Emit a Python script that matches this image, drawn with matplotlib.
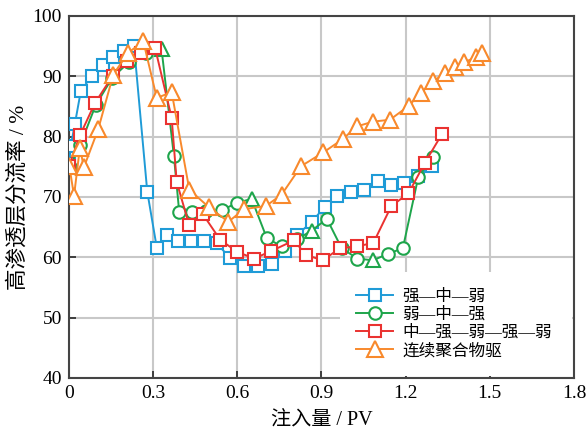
import matplotlib
matplotlib.use("Agg")
import matplotlib.pyplot as plt
from matplotlib.lines import Line2D

# 强—中—弱
x_blue = [0.001, 0.006, 0.021, 0.042, 0.081, 0.120, 0.158, 0.196, 0.232, 0.279,
          0.313, 0.348, 0.390, 0.435, 0.482, 0.526, 0.575, 0.625, 0.674, 0.725,
          0.769, 0.814, 0.865, 0.911, 0.957, 1.005, 1.051, 1.100, 1.148, 1.195,
          1.245, 1.293]
y_blue = [75.7, 78.4, 82.1, 87.5, 90.1, 91.8, 93.2, 94.2, 95.0, 70.9,
          61.6, 63.7, 62.7, 62.7, 62.7, 62.3, 59.9, 58.6, 58.5, 58.9,
          61.0, 63.7, 65.9, 68.3, 70.1, 70.9, 71.2, 72.6, 72.0, 72.4,
          73.5, 75.1]

# 弱—中—强
x_green = [0.003, 0.040, 0.095, 0.155, 0.215, 0.275, 0.330, 0.374, 0.393, 0.437,
           0.490, 0.544, 0.598, 0.651, 0.705, 0.758, 0.812, 0.865, 0.919, 0.972,
           1.028, 1.083, 1.138, 1.190, 1.245, 1.298]
y_green = [75.0, 78.6, 85.2, 89.8, 92.4, 93.8, 94.5, 76.8, 67.5, 67.5,
           67.7, 67.8, 69.0, 69.7, 63.2, 61.8, 63.0, 64.4, 66.4, 61.5,
           59.8, 59.5, 60.6, 61.5, 73.3, 76.7]
green_tri_idx = [6, 13, 17, 21]

# 中—强—弱—强—弱
x_red = [0.001, 0.039, 0.093, 0.156, 0.206, 0.256, 0.307, 0.366, 0.384, 0.428,
         0.478, 0.539, 0.600, 0.660, 0.719, 0.802, 0.845, 0.904, 0.966, 1.026,
         1.085, 1.149, 1.210, 1.269, 1.329]
y_red = [75.2, 80.2, 85.6, 90.1, 92.5, 93.9, 94.7, 83.1, 72.5, 65.4,
         67.1, 62.9, 60.9, 59.8, 61.0, 62.8, 60.4, 59.5, 61.5, 61.8,
         62.4, 68.5, 70.6, 75.7, 80.4]

# 连续聚合物驱
x_orange = [0.001, 0.018, 0.039, 0.053, 0.104, 0.158, 0.211, 0.265, 0.313, 0.366,
            0.429, 0.499, 0.568, 0.625, 0.702, 0.758, 0.827, 0.907, 0.976, 1.026,
            1.085, 1.144, 1.211, 1.253, 1.299, 1.340, 1.376, 1.408, 1.451, 1.471]
y_orange = [75.2, 70.2, 78.2, 74.9, 81.2, 90.3, 93.9, 95.8, 86.4, 87.4,
            71.2, 68.3, 65.9, 68.0, 68.5, 70.4, 75.1, 77.4, 79.6, 81.7,
            82.5, 82.8, 85.1, 87.2, 89.2, 90.5, 91.5, 92.3, 93.2, 93.8]

labels = ["强—中—弱", "弱—中—强", "中—强—弱—强—弱", "连续聚合物驱"]
x_ticks = [0, 0.3, 0.6, 0.9, 1.2, 1.5, 1.8]
x_tick_labels = ["0", "0.3", "0.6", "0.9", "1.2", "1.5", "1.8"]
y_ticks = [40, 50, 60, 70, 80, 90, 100]

C_BLUE = "#1f9bd7"
C_GREEN = "#1ea54b"
C_RED = "#ea3230"
C_ORANGE = "#f8892c"

FONTS = ["Liberation Serif", "Noto Sans CJK SC"]
plt.rcParams["font.family"] = FONTS
plt.rcParams["axes.unicode_minus"] = False

fig = plt.figure(figsize=(5.86, 4.32), dpi=100)
ax = fig.add_axes([0.1177, 0.125, 0.8618, 0.838])

ms = 9
mew = 1.5
lw = 1.4
common = dict(markerfacecolor="white", markeredgewidth=mew, linewidth=lw)

ax.plot(x_blue, y_blue, marker="s", color=C_BLUE, markersize=ms, zorder=3, **common)
ax.plot(x_green, y_green, marker="o", color=C_GREEN, markersize=ms,
        markevery=[i for i in range(len(x_green)) if i not in green_tri_idx],
        zorder=4, **common)
ax.plot([x_green[i] for i in green_tri_idx], [y_green[i] for i in green_tri_idx],
        linestyle="none", marker="^", color=C_GREEN, markersize=ms + 1,
        markerfacecolor="white", markeredgewidth=mew, zorder=4)
ax.plot(x_red, y_red, marker="s", color=C_RED, markersize=ms, zorder=5, **common)
ax.plot(x_orange, y_orange, marker="^", color=C_ORANGE, markersize=ms + 2, zorder=6, **common)

ax.set_xlim(0, 1.8)
ax.set_ylim(40, 100)
ax.set_xticks(x_ticks)
ax.set_xticklabels(x_tick_labels)
ax.set_yticks(y_ticks)
ax.tick_params(direction="in", length=5, width=1.3, colors="#333333",
               labelsize=14, labelcolor="black", pad=5)
ax.grid(True, color="#c8c8c8", linewidth=1.5)
ax.set_axisbelow(True)
for s in ax.spines.values():
    s.set_linewidth(1.5)
    s.set_color("#444444")

ax.set_xlabel("注入量 / PV", fontsize=14.5, labelpad=6)
ax.set_ylabel("高渗透层分流率 / %", fontsize=15.5, labelpad=3)

handles = [
    Line2D([], [], color=C_BLUE, marker="s", markersize=ms, **common),
    Line2D([], [], color=C_GREEN, marker="o", markersize=ms, **common),
    Line2D([], [], color=C_RED, marker="s", markersize=ms, **common),
    Line2D([], [], color=C_ORANGE, marker="^", markersize=ms + 2, **common),
]
leg = ax.legend(handles, labels, loc="lower left", mode="expand",
                bbox_to_anchor=(0.536, 0.006, 0.461, 0.3), fontsize=12,
                frameon=True, framealpha=1, facecolor="white", edgecolor="none",
                handlelength=2.2, labelspacing=0.12, borderaxespad=0,
                borderpad=1.0, handletextpad=0.55)
leg.set_zorder(10)

fig.savefig("out.png", dpi=100)
